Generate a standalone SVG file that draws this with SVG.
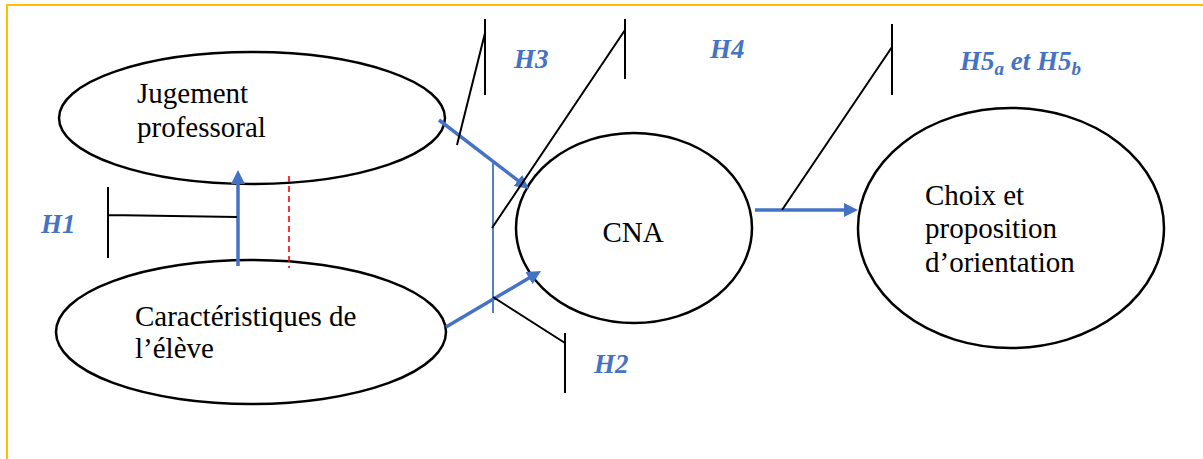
<svg xmlns="http://www.w3.org/2000/svg" width="1203" height="459" viewBox="0 0 1203 459">
<style>
.node ellipse{fill:#fff;stroke:#000;stroke-width:2.5}
.t{font-family:"Liberation Serif","Times New Roman",serif;font-size:29px;fill:#000}
.h{font-family:"Liberation Serif","Times New Roman",serif;font-size:27px;font-weight:bold;font-style:italic;fill:#4472C4}
.blk{stroke:#000;stroke-width:2;fill:none}
.blue{stroke:#4472C4;stroke-width:3.5;fill:none}
.thin{stroke:#4472C4;stroke-width:1.8;fill:none}
.red{stroke:#FF0000;stroke-width:1.6;stroke-dasharray:6 4;fill:none}
</style>
<defs>
<marker id="ah" markerWidth="14" markerHeight="14" refX="2" refY="7" orient="auto" markerUnits="userSpaceOnUse" viewBox="0 0 14 14"><path d="M0,0 L14,7 L0,14 z" fill="#4472C4"/></marker>
</defs>
<rect width="1203" height="459" fill="#fff"/>
<path d="M7,459 V5 H1203" fill="none" stroke="#FFC000" stroke-width="2"/>
<g id="jugement" class="node">
<ellipse cx="252" cy="118" rx="193" ry="66"/>
<text class="t" x="137" y="103">Jugement</text>
<text class="t" x="137" y="137">professoral</text>
</g>
<g id="caracteristiques" class="node">
<ellipse cx="251" cy="332" rx="195" ry="72"/>
<text class="t" x="135" y="326">Caractéristiques de</text>
<text class="t" x="135" y="358">l’élève</text>
</g>
<g id="cna" class="node">
<ellipse cx="634" cy="228" rx="118" ry="95"/>
<text class="t" x="633" y="242" text-anchor="middle">CNA</text>
</g>
<g id="choix" class="node">
<ellipse cx="1011" cy="228" rx="153" ry="120"/>
<text class="t" x="925" y="205">Choix et</text>
<text class="t" x="925" y="238">proposition</text>
<text class="t" x="925" y="272">d’orientation</text>
</g>
<g id="connectors">
<line class="blue" x1="439" y1="120" x2="519.5" y2="181.7" marker-end="url(#ah)"/>
<line class="blue" x1="446" y1="327" x2="530.7" y2="277.1" marker-end="url(#ah)"/>
<line class="blue" x1="755" y1="210" x2="846" y2="210" marker-end="url(#ah)"/>
<line class="blue" x1="238" y1="266" x2="238" y2="182" marker-end="url(#ah)"/>
<line class="thin" x1="493" y1="163" x2="493" y2="313"/>
<line class="red" x1="289" y1="176" x2="289" y2="268"/>
<path class="blk" d="M108,215 L237,217 M108,187 V258"/>
<path class="blk" d="M457,145 L485,33 M485,19 V95"/>
<path class="blk" d="M492,228 L625,30 M625,19 V79"/>
<path class="blk" d="M493,297 L565,343 M565,333 V393"/>
<path class="blk" d="M782,210 L892,47 M892,24 V95"/>
</g>
<g id="labels">
<text class="h" x="41" y="233">H1</text>
<text class="h" x="514" y="68">H3</text>
<text class="h" x="710" y="58">H4</text>
<text class="h" x="594" y="373">H2</text>
<text class="h" x="960" y="70">H5<tspan font-size="19" dy="5">a</tspan><tspan dy="-5"> et H5</tspan><tspan font-size="19" dy="5">b</tspan></text>
</g>
</svg>
